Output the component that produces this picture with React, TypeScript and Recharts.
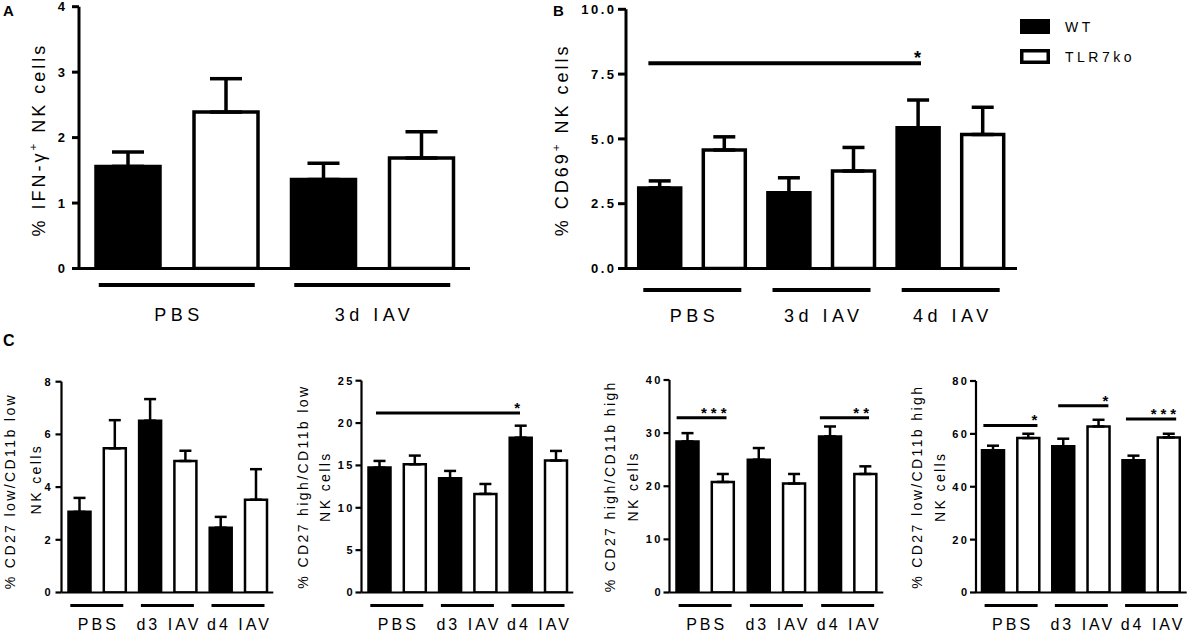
import React from 'react';
import { BarChart, Bar, XAxis, YAxis, ErrorBar, ReferenceLine, Legend } from 'recharts';

const FONT = '"Liberation Sans", Arial, Helvetica, sans-serif';

// A: IFN-gamma+ NK cells
const groupsA = ['PBS', '3d IAV'];
const wtA = [1.56, 1.36];
const wtSemA = [0.22, 0.25];
const koA = [2.39, 1.69];
const koSemA = [0.51, 0.4];
const ticksA = [0, 1, 2, 3, 4];

// B: CD69+ NK cells
const groupsB = ['PBS', '3d IAV', '4d IAV'];
const wtB = [3.11, 2.92, 5.43];
const wtSemB = [0.27, 0.58, 1.07];
const koB = [4.57, 3.76, 5.17];
const koSemB = [0.51, 0.91, 1.05];
const ticksB = [0, 2.5, 5, 7.5, 10];

// C: NK subsets
const groupsC = ['PBS', 'd3 IAV', 'd4 IAV'];

const wtC1 = [3.06, 6.52, 2.46];
const wtSemC1 = [0.53, 0.82, 0.41];
const koC1 = [5.47, 4.99, 3.52];
const koSemC1 = [1.07, 0.39, 1.16];
const ticksC1 = [0, 2, 4, 6, 8];

const wtC2 = [14.74, 13.48, 18.28];
const wtSemC2 = [0.79, 0.87, 1.41];
const koC2 = [15.13, 11.64, 15.57];
const koSemC2 = [1.03, 1.17, 1.14];
const ticksC2 = [0, 5, 10, 15, 20, 25];

const wtC3 = [28.44, 25.0, 29.38];
const wtSemC3 = [1.56, 2.19, 1.87];
const koC3 = [20.81, 20.5, 22.31];
const koSemC3 = [1.5, 1.81, 1.44];
const ticksC3 = [0, 10, 20, 30, 40];

const wtC4 = [53.77, 55.28, 50.0];
const wtSemC4 = [1.76, 2.89, 1.76];
const koC4 = [58.42, 62.81, 58.67];
const koSemC4 = [1.63, 2.52, 1.38];
const ticksC4 = [0, 20, 40, 60, 80];

type Part = { t: string; sup?: boolean };
type TitleLine = { parts: Part[]; dist: number; dy: number };
// from / to are in bar slots (two slots per group), y in data units
type Sig = { from: number; to: number; y: number; text: string };

type PanelCfg = {
  box: { left: number; top: number; width: number; height: number };
  plot: { left: number; top: number; right: number; bottom: number };
  groups: string[];
  wt: number[];
  wtSem: number[];
  ko: number[];
  koSem: number[];
  ticks: number[];
  decimals: number;
  title: TitleLine[];
  titleSize: number;
  titleSpacing: number;
  tickFont: number;
  tickSpacing: number;
  tickLen: number;
  tickMargin: number;
  axisW: number;
  barSize: number;
  barGap: number;
  pad: number;
  barStroke: number;
  errW: number;
  capHalf: number;
  groupHalf: number;
  groupDy: number;
  groupW: number;
  labelDy: number;
  labelSize: number;
  labelSpacing: number;
  sigs: Sig[];
  sigW: number;
  starSize: number;
  starSpacing: number;
  starDy: number;
  legend?: boolean;
};

const AxisTitle = ({ viewBox, cfg }: any) => {
  const { x, y, width, height } = viewBox;
  const cy = y + height / 2;
  const s = cfg.titleSize;
  return (
    <g>
      {cfg.title.map((ln: TitleLine, i: number) => {
        const bx = x + width - ln.dist;
        const by = cy + ln.dy;
        return (
          <text
            key={i}
            x={bx}
            y={by}
            transform={`rotate(-90 ${bx} ${by})`}
            textAnchor="middle"
            fontFamily={FONT}
            fontSize={s}
            letterSpacing={cfg.titleSpacing}
            fill="#000"
          >
            {ln.parts.map((p, j) => {
              if (p.sup) {
                return (
                  <tspan key={j} dy={-s * 0.45} fontSize={s * 0.65}>
                    {p.t}
                  </tspan>
                );
              }
              const back = j > 0 && ln.parts[j - 1].sup ? s * 0.45 : 0;
              return (
                <tspan key={j} dy={back}>
                  {p.t}
                </tspan>
              );
            })}
          </text>
        );
      })}
    </g>
  );
};

const ValueTick = ({ x, y, payload, cfg }: any) => (
  <text
    x={x}
    y={y}
    dx={cfg.tickSpacing}
    dy="0.36em"
    textAnchor="end"
    fontFamily={FONT}
    fontWeight={700}
    fontSize={cfg.tickFont}
    letterSpacing={cfg.tickSpacing}
    fill="#000"
  >
    {Number(payload.value).toFixed(cfg.decimals)}
  </text>
);

const GroupTick = ({ x, y, payload, cfg }: any) => (
  <g>
    <line
      x1={x - cfg.groupHalf}
      x2={x + cfg.groupHalf}
      y1={y + cfg.groupDy}
      y2={y + cfg.groupDy}
      stroke="#000"
      strokeWidth={cfg.groupW}
    />
    <text
      x={x}
      y={y + cfg.labelDy}
      dx={cfg.labelSpacing / 2}
      textAnchor="middle"
      fontFamily={FONT}
      fontSize={cfg.labelSize}
      letterSpacing={cfg.labelSpacing}
      fill="#000"
    >
      {cfg.groups[payload.value]}
    </text>
  </g>
);

const Stars = ({ viewBox, text, cfg }: any) => (
  <text
    x={viewBox.x + viewBox.width}
    y={viewBox.y + cfg.starDy}
    dx={cfg.starSpacing}
    textAnchor="end"
    fontFamily={FONT}
    fontWeight={700}
    fontSize={cfg.starSize}
    letterSpacing={cfg.starSpacing}
    fill="#000"
  >
    {text}
  </text>
);

const LegendBox = ({ payload }: any) => (
  <div style={{ fontFamily: FONT, fontSize: 14, letterSpacing: 3.5, color: '#000' }}>
    {(payload || []).map((e: any, i: number) => (
      <div key={i} style={{ display: 'flex', alignItems: 'center', height: 30 }}>
        <svg width={30} height={15} style={{ display: 'block' }}>
          <rect
            x={1.75}
            y={1.75}
            width={26.5}
            height={11.5}
            fill={e.payload?.fill ?? e.color}
            stroke="#000"
            strokeWidth={3.5}
          />
        </svg>
        <span style={{ marginLeft: 15 }}>{e.value}</span>
      </div>
    ))}
  </div>
);

function Panel({ cfg }: { cfg: PanelCfg }) {
  const { box, plot } = cfg;
  const rows = cfg.groups.map((g, i) => ({
    x: i,
    group: g,
    wt: cfg.wt[i],
    wtErr: [0, cfg.wtSem[i]],
    ko: cfg.ko[i],
    koErr: [0, cfg.koSem[i]],
  }));
  const margin = {
    top: plot.top - box.top,
    right: box.left + box.width - plot.right,
    bottom: 0,
    left: 0,
  };
  const n = cfg.groups.length;
  const max = cfg.ticks[cfg.ticks.length - 1];
  const axisStyle = { stroke: '#000', strokeWidth: cfg.axisW };
  const toGroup = (slot: number) => slot / 2 - 0.5;
  return (
    <div style={{ position: 'absolute', left: box.left, top: box.top }}>
      <BarChart
        width={box.width}
        height={box.height}
        data={rows}
        margin={margin}
        barSize={cfg.barSize}
        barGap={cfg.barGap}
      >
        <XAxis
          dataKey="x"
          type="number"
          domain={[-0.5, n - 0.5]}
          allowDataOverflow
          ticks={rows.map((r) => r.x)}
          height={box.top + box.height - plot.bottom}
          padding={{ left: cfg.pad, right: cfg.pad }}
          axisLine={axisStyle}
          tickLine={false}
          tickSize={0}
          tickMargin={0}
          interval={0}
          tick={(p: any) => <GroupTick {...p} cfg={cfg} />}
        />
        <YAxis
          type="number"
          domain={[0, max]}
          ticks={cfg.ticks}
          allowDataOverflow
          interval={0}
          width={plot.left - box.left}
          axisLine={axisStyle}
          tickLine={axisStyle}
          tickSize={cfg.tickLen}
          tickMargin={cfg.tickMargin}
          tick={(p: any) => <ValueTick {...p} cfg={cfg} />}
          label={(p: any) => <AxisTitle {...p} cfg={cfg} />}
        />
        <Bar dataKey="wt" name="WT" fill="#000" stroke="#000" strokeWidth={cfg.barStroke} isAnimationActive={false}>
          <ErrorBar dataKey="wtErr" width={cfg.capHalf} stroke="#000" strokeWidth={cfg.errW} />
        </Bar>
        <Bar dataKey="ko" name="TLR7ko" fill="#fff" stroke="#000" strokeWidth={cfg.barStroke} isAnimationActive={false}>
          <ErrorBar dataKey="koErr" width={cfg.capHalf} stroke="#000" strokeWidth={cfg.errW} />
        </Bar>
        {cfg.sigs.map((s, i) => (
          <ReferenceLine
            key={i}
            segment={[
              { x: toGroup(s.from), y: s.y },
              { x: toGroup(s.to), y: s.y },
            ]}
            stroke="#000"
            strokeWidth={cfg.sigW}
            ifOverflow="visible"
            label={(p: any) => <Stars {...p} text={s.text} cfg={cfg} />}
          />
        ))}
        {cfg.legend && (
          <Legend
            layout="vertical"
            align="center"
            verticalAlign="middle"
            itemSorter={(item: any) => (item.dataKey === 'wt' ? 0 : 1)}
            content={(p: any) => <LegendBox {...p} />}
            wrapperStyle={{ left: 480, top: 11.5, width: 160 }}
          />
        )}
      </BarChart>
    </div>
  );
}

const bigStyle = {
  titleSize: 18,
  titleSpacing: 3,
  tickFont: 13,
  axisW: 3,
  barStroke: 3.5,
  errW: 3.5,
  groupW: 4,
  labelSize: 18,
  labelSpacing: 4.5,
  sigW: 4,
  starSize: 18,
  starSpacing: 3,
  starDy: 0.5,
};

const smallStyle = {
  titleSize: 14,
  titleSpacing: 2.4,
  tickFont: 11,
  tickSpacing: 2.5,
  tickLen: 6,
  tickMargin: 3,
  axisW: 2.2,
  barSize: 22,
  barGap: 13.3,
  pad: 0,
  barStroke: 2.5,
  errW: 2.5,
  capHalf: 6,
  groupHalf: 26.5,
  groupDy: 13,
  groupW: 3,
  labelDy: 37.5,
  labelSize: 16,
  labelSpacing: 3,
  sigW: 3,
  starSize: 15,
  starSpacing: 4,
  starDy: 0,
  decimals: 0,
};

const cfgA: PanelCfg = {
  ...bigStyle,
  box: { left: 0, top: 0, width: 540, height: 330 },
  plot: { left: 79, top: 6.7, right: 470, bottom: 268.5 },
  groups: groupsA,
  wt: wtA,
  wtSem: wtSemA,
  ko: koA,
  koSem: koSemA,
  ticks: ticksA,
  decimals: 0,
  title: [{ parts: [{ t: '% IFN-γ' }, { t: '+', sup: true }, { t: ' NK cells' }], dist: 34, dy: 2 }],
  tickSpacing: 0,
  tickLen: 7,
  tickMargin: 7,
  barSize: 64,
  barGap: 34,
  pad: 0,
  capHalf: 16,
  groupHalf: 78,
  groupDy: 16.5,
  labelDy: 52.5,
  sigs: [],
};

const cfgB: PanelCfg = {
  ...bigStyle,
  box: { left: 540, top: 0, width: 650, height: 330 },
  plot: { left: 626, top: 9.3, right: 1017, bottom: 268.5 },
  groups: groupsB,
  wt: wtB,
  wtSem: wtSemB,
  ko: koB,
  koSem: koSemB,
  ticks: ticksB,
  decimals: 1,
  title: [{ parts: [{ t: '% CD69' }, { t: '+', sup: true }, { t: ' NK cells' }], dist: 58, dy: 1 }],
  tickSpacing: 2.5,
  tickLen: 8,
  tickMargin: 4,
  barSize: 42,
  barGap: 22.6,
  pad: 1.7,
  capHalf: 11,
  groupHalf: 49,
  groupDy: 21.5,
  labelDy: 53,
  sigs: [{ from: 0.32, to: 4.54, y: 7.92, text: '*' }],
  legend: true,
};

const cfgC1: PanelCfg = {
  ...smallStyle,
  box: { left: 0, top: 330, width: 290, height: 303 },
  plot: { left: 61.5, top: 381.7, right: 273.3, bottom: 592.5 },
  groups: groupsC,
  wt: wtC1,
  wtSem: wtSemC1,
  ko: koC1,
  koSem: koSemC1,
  ticks: ticksC1,
  title: [
    { parts: [{ t: '% CD27 low/CD11b low' }], dist: 46.5, dy: 4 },
    { parts: [{ t: 'NK cells' }], dist: 20.5, dy: -8 },
  ],
  tickMargin: 5,
  sigs: [],
};

const cfgC2: PanelCfg = {
  ...smallStyle,
  box: { left: 290, top: 330, width: 300, height: 303 },
  plot: { left: 361.5, top: 380.7, right: 573.3, bottom: 592.5 },
  groups: groupsC,
  wt: wtC2,
  wtSem: wtSemC2,
  ko: koC2,
  koSem: koSemC2,
  ticks: ticksC2,
  title: [
    { parts: [{ t: '% CD27 high/CD11b low' }], dist: 53.5, dy: 0 },
    { parts: [{ t: 'NK cells' }], dist: 31.5, dy: 0 },
  ],
  sigs: [{ from: 0.41, to: 4.49, y: 21.2, text: '*' }],
};

const cfgC3: PanelCfg = {
  ...smallStyle,
  box: { left: 590, top: 330, width: 300, height: 303 },
  plot: { left: 669.5, top: 380, right: 883.3, bottom: 592.5 },
  groups: groupsC,
  wt: wtC3,
  wtSem: wtSemC3,
  ko: koC3,
  koSem: koSemC3,
  ticks: ticksC3,
  title: [
    { parts: [{ t: '% CD27 high/CD11b high' }], dist: 54.5, dy: 0 },
    { parts: [{ t: 'NK cells' }], dist: 31.5, dy: 0 },
  ],
  sigs: [
    { from: 0.2, to: 1.6, y: 32.9, text: '***' },
    { from: 4.22, to: 5.6, y: 32.9, text: '**' },
  ],
};

const cfgC4: PanelCfg = {
  ...smallStyle,
  box: { left: 890, top: 330, width: 300, height: 303 },
  plot: { left: 976, top: 381, right: 1186.7, bottom: 592.5 },
  groups: groupsC,
  wt: wtC4,
  wtSem: wtSemC4,
  ko: koC4,
  koSem: koSemC4,
  ticks: ticksC4,
  title: [
    { parts: [{ t: '% CD27 low/CD11b high' }], dist: 54, dy: 0 },
    { parts: [{ t: 'NK cells' }], dist: 31, dy: 0 },
  ],
  sigs: [
    { from: 0.21, to: 1.75, y: 63.2, text: '*' },
    { from: 2.34, to: 3.77, y: 70.6, text: '*' },
    { from: 4.27, to: 5.7, y: 65.6, text: '***' },
  ],
};

const letterStyle = (left: number, top: number, size: number): React.CSSProperties => ({
  position: 'absolute',
  left,
  top,
  fontFamily: FONT,
  fontWeight: 700,
  fontSize: size,
  lineHeight: 1,
});

export default function App() {
  return (
    <div
      style={{
        position: 'absolute',
        left: 0,
        top: 0,
        width: 1190,
        height: 633,
        background: '#fff',
        overflow: 'hidden',
        fontFamily: FONT,
      }}
    >
      <Panel cfg={cfgA} />
      <Panel cfg={cfgB} />
      <Panel cfg={cfgC1} />
      <Panel cfg={cfgC2} />
      <Panel cfg={cfgC3} />
      <Panel cfg={cfgC4} />
      <div style={letterStyle(3, 3, 15)}>A</div>
      <div style={letterStyle(553, 3, 15)}>B</div>
      <div style={letterStyle(3, 333, 16)}>C</div>
    </div>
  );
}
